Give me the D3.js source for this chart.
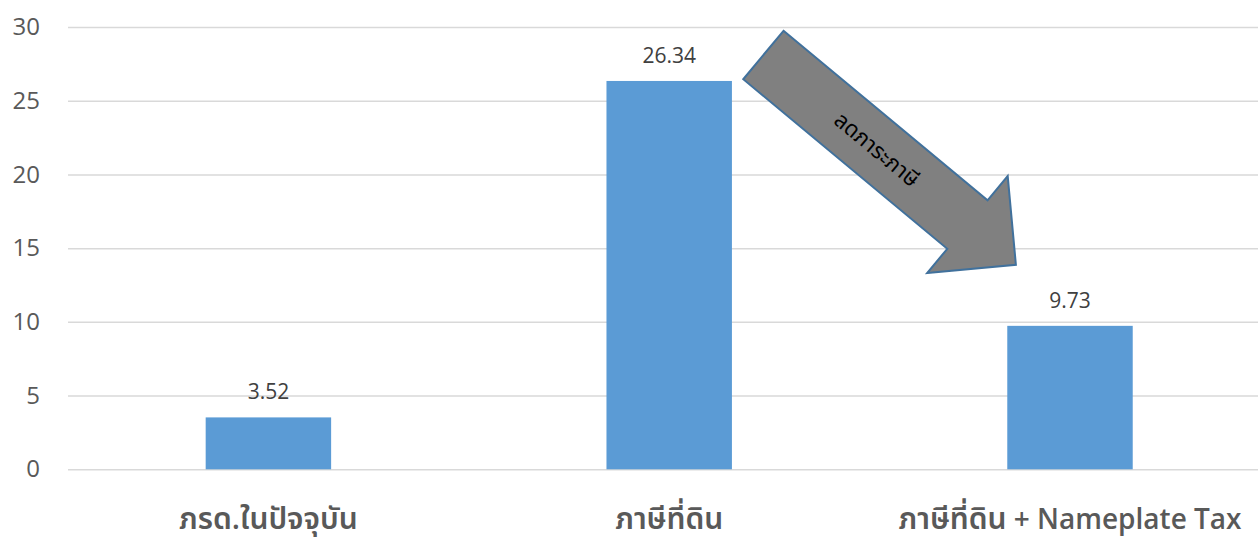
<!DOCTYPE html>
<html>
<head>
<meta charset="utf-8">
<script src="https://cdn.jsdelivr.net/npm/d3@7/dist/d3.min.js"></script>
<style>
  html, body { margin: 0; padding: 0; background: #ffffff; }
  svg { display: block; }
  text { font-family: "Open Sans", "Noto Sans Thai", "Noto Sans", sans-serif; }
</style>
</head>
<body>
<svg id="chart" width="1258" height="538"></svg>
<script>
// Chart data
const categories = ["ภรด.ในปัจจุบัน", "ภาษีที่ดิน", "ภาษีที่ดิน + Nameplate Tax"];
const values = [3.52, 26.34, 9.73];
const yTicks = [0, 5, 10, 15, 20, 25, 30];

// Annotation arrow: from/to in (category slot, value) coordinates
const arrowLabel = "ลดภาระภาษี";
const arrowFrom = [1.235, 28.1];
const arrowTo = [1.865, 13.87];

const W = 1258, H = 538;
const plotLeft = 68, plotRight = 1270.4, plotTop = 27, plotBottom = 469.3;

const svg = d3.select("#chart");

const x = d3.scaleBand()
  .domain(categories)
  .range([plotLeft, plotRight])
  .paddingInner(0.687)
  .paddingOuter(0.3435);

// continuous slot scale aligned with band centres (used for the annotation)
const slot = d3.scaleLinear()
  .domain([-0.5, categories.length - 0.5])
  .range([plotLeft, plotRight]);

const y = d3.scaleLinear().domain([0, 30]).range([plotBottom, plotTop]);

// Gridlines + tick labels
const yAxis = d3.axisLeft(y)
  .tickValues(yTicks)
  .tickSize(-(W - plotLeft))
  .tickPadding(28)
  .tickFormat(d3.format("d"));

const gy = svg.append("g")
  .attr("transform", `translate(${plotLeft},0)`)
  .call(yAxis);
gy.select(".domain").remove();
gy.selectAll(".tick line")
  .attr("stroke", "#d9d9d9")
  .attr("stroke-width", 1.5);
gy.selectAll(".tick text")
  .attr("fill", "#595959")
  .attr("font-size", 24)
  .attr("x", -28);

// Bars
svg.append("g")
  .selectAll("rect")
  .data(values)
  .join("rect")
  .attr("x", (d, i) => x(categories[i]))
  .attr("width", x.bandwidth())
  .attr("y", d => y(d))
  .attr("height", d => y(0) - y(d))
  .attr("fill", "#5b9bd5");

// Value labels
svg.append("g")
  .selectAll("text")
  .data(values)
  .join("text")
  .attr("x", (d, i) => x(categories[i]) + x.bandwidth() / 2)
  .attr("y", d => y(d) - 18)
  .attr("text-anchor", "middle")
  .attr("fill", "#404040")
  .attr("font-size", 21)
  .text(d => d.toFixed(2));

// Category labels: Thai runs are set a little larger than Latin runs
const thaiRun = /[\u0E00-\u0E7F.]+|[^\u0E00-\u0E7F.]+/g;
const catLabels = svg.append("g")
  .selectAll("text")
  .data(categories)
  .join("text")
  .attr("x", d => x(d) + x.bandwidth() / 2)
  .attr("y", 529)
  .attr("text-anchor", "middle")
  .attr("fill", "#595959")
  .attr("font-weight", 600);
catLabels.selectAll("tspan")
  .data(d => d.match(thaiRun))
  .join("tspan")
  .attr("font-size", s => /[\u0E00-\u0E7F]/.test(s) ? 30 : 28)
  .text(s => s);

// Block arrow annotation
const p0 = [slot(arrowFrom[0]), y(arrowFrom[1])];
const p1 = [slot(arrowTo[0]), y(arrowTo[1])];
const dx = p1[0] - p0[0], dy = p1[1] - p0[1];
const len = Math.hypot(dx, dy);
const angle = Math.atan2(dy, dx) * 180 / Math.PI;
const shaftHalf = 31.5, headHalf = 63, headLen = 63;

const arrowPts = [
  [0, -shaftHalf],
  [len - headLen, -shaftHalf],
  [len - headLen, -headHalf],
  [len, 0],
  [len - headLen, headHalf],
  [len - headLen, shaftHalf],
  [0, shaftHalf]
];

const ga = svg.append("g")
  .attr("transform", `translate(${p0[0]},${p0[1]}) rotate(${angle})`);
ga.append("polygon")
  .attr("points", arrowPts.map(p => p.join(",")).join(" "))
  .attr("fill", "#808080")
  .attr("stroke", "#41719c")
  .attr("stroke-width", 2)
  .attr("stroke-linejoin", "miter");
ga.append("text")
  .attr("x", len * 0.45)
  .attr("y", 0)
  .attr("dy", "0.35em")
  .attr("text-anchor", "middle")
  .attr("fill", "#000000")
  .attr("font-size", 22)
  .text(arrowLabel);
</script>
</body>
</html>
